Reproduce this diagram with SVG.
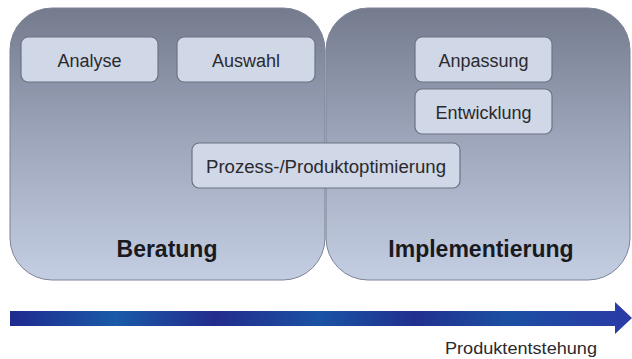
<svg xmlns="http://www.w3.org/2000/svg" width="632" height="359" viewBox="0 0 632 359">
<defs>
<linearGradient id="pg" x1="0" y1="0" x2="0" y2="1">
<stop offset="0" stop-color="#747b8d"/>
<stop offset="0.45" stop-color="#9ba3b9"/>
<stop offset="1" stop-color="#c4cee2"/>
</linearGradient>
<linearGradient id="ag" x1="0" y1="0" x2="1" y2="0">
<stop offset="0" stop-color="#1e2a8e"/>
<stop offset="0.17" stop-color="#1a5aa8"/>
<stop offset="0.33" stop-color="#222c8c"/>
<stop offset="0.5" stop-color="#1a52a4"/>
<stop offset="0.65" stop-color="#21308e"/>
<stop offset="0.8" stop-color="#1b4fa2"/>
<stop offset="1" stop-color="#2a3aa6"/>
</linearGradient>
</defs>
<style>
.panel{fill:url(#pg);stroke:#7c8396;stroke-width:1}
.box{fill:#d0d7e7;stroke:#6c7282;stroke-width:1.2}
.bt{font-family:"Liberation Sans",Arial,sans-serif;font-size:18px;fill:#2a2a2e;text-anchor:middle}
.pt{font-family:"Liberation Sans",Arial,sans-serif;font-size:23px;font-weight:bold;fill:#1a1a1e;text-anchor:middle}
.lt{font-family:"Liberation Sans",Arial,sans-serif;font-size:16px;fill:#2a2a2e;text-anchor:middle}
</style>
<g id="beratung">
<rect class="panel" x="10" y="8" width="315" height="272" rx="42" ry="42"/>
<text class="pt" x="167" y="257">Beratung</text>
</g>
<g id="implementierung">
<rect class="panel" x="326" y="8" width="304" height="272" rx="42" ry="42"/>
<text class="pt" x="481" y="257">Implementierung</text>
</g>
<g id="analyse">
<rect class="box" x="21" y="37" width="137" height="45" rx="7" ry="7"/>
<text class="bt" x="89.5" y="66.5">Analyse</text>
</g>
<g id="auswahl">
<rect class="box" x="177" y="37" width="138" height="45" rx="7" ry="7"/>
<text class="bt" x="246" y="66.5">Auswahl</text>
</g>
<g id="anpassung">
<rect class="box" x="415" y="37" width="137" height="45" rx="7" ry="7"/>
<text class="bt" x="483.5" y="66.5">Anpassung</text>
</g>
<g id="entwicklung">
<rect class="box" x="415" y="89" width="137" height="45" rx="7" ry="7"/>
<text class="bt" x="483.5" y="118.5">Entwicklung</text>
</g>
<g id="optimierung">
<rect class="box" x="192" y="143" width="268" height="45" rx="7" ry="7"/>
<text class="bt" x="326" y="172.5" textLength="240" lengthAdjust="spacingAndGlyphs">Prozess-/Produktoptimierung</text>
</g>
<g id="connectors">
<path d="M10 311 H615 V302 L632 318 L615 334 V326 H10 Z" fill="url(#ag)"/>
</g>
<g id="label">
<text class="lt" x="521" y="354" textLength="152" lengthAdjust="spacingAndGlyphs">Produktentstehung</text>
</g>
</svg>
